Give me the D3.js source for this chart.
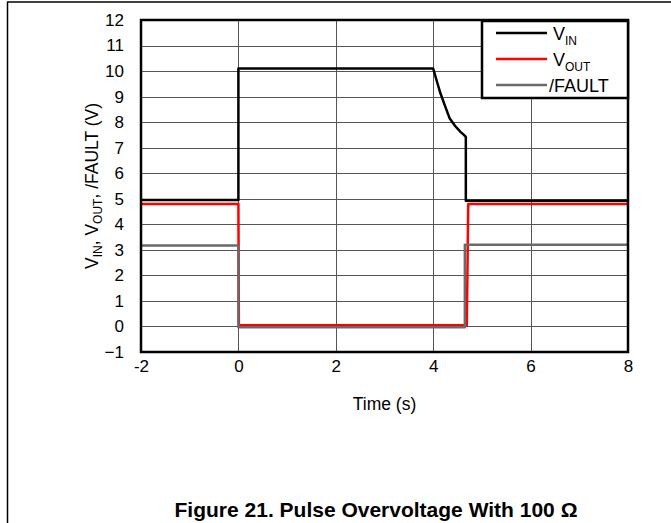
<!DOCTYPE html>
<html><head><meta charset="utf-8">
<script src="https://cdn.jsdelivr.net/npm/d3@7"></script>
<style>body{margin:0;background:#fff}svg{display:block;font-family:"Liberation Sans",Arial,sans-serif}</style>
</head><body>
<script>
const xTicks = [-2, 0, 2, 4, 6, 8];
const yTicks = [-1,0,1,2,3,4,5,6,7,8,9,10,11,12];
const vinT   = [-2, 0, 0, 4.0, 4.06, 4.15, 4.25, 4.34, 4.45, 4.56, 4.63, 4.67, 4.67, 8];
const vinV   = [4.95, 4.95, 10.1, 10.1, 9.7, 9.12, 8.6, 8.14, 7.85, 7.62, 7.5, 7.42, 4.92, 4.92];
const voutT  = [-2, 0, 0.01, 4.69, 4.72, 8];
const voutV  = [4.8, 4.8, 0.05, 0.05, 4.8, 4.8];
const faultT = [-2, 0, 0, 4.65, 4.65, 8];
const faultV = [3.17, 3.17, -0.03, -0.03, 3.2, 3.2];
const seriesNames = ["V|IN", "V|OUT", "/FAULT"];
const seriesColors = ["#000000", "#ff0000", "#6a6a6a"];
const caption = "Figure 21. Pulse Overvoltage With 100 Ω";

const W = 671, H = 523;
const m = {l: 141, r: 628, t: 20, b: 352};
const svg = d3.select("body").append("svg").attr("width", W).attr("height", H);

// page frame
svg.append("line").attr("x1", 7).attr("x2", W).attr("y1", 2).attr("y2", 2).attr("stroke", "#000").attr("stroke-width", 1.5);
svg.append("line").attr("x1", 7.5).attr("x2", 7.5).attr("y1", 2).attr("y2", H).attr("stroke", "#000").attr("stroke-width", 1.5);

const x = d3.scaleLinear().domain([-2, 8]).range([m.l, m.r]);
const y = d3.scaleLinear().domain([-1, 12]).range([m.b, m.t]);

// grid
svg.append("g").selectAll("line").data(xTicks.slice(1, -1)).join("line")
  .attr("x1", d => Math.round(x(d)) + 0.5).attr("x2", d => Math.round(x(d)) + 0.5)
  .attr("y1", m.t).attr("y2", m.b).attr("stroke", "#555").attr("stroke-width", 1);
svg.append("g").selectAll("line").data(yTicks.slice(1, -1)).join("line")
  .attr("x1", m.l).attr("x2", m.r)
  .attr("y1", d => Math.round(y(d)) + 0.5).attr("y2", d => Math.round(y(d)) + 0.5)
  .attr("stroke", "#555").attr("stroke-width", 1);

// axes (labels only)
const xAxis = svg.append("g").attr("transform", `translate(0,${m.b})`)
  .call(d3.axisBottom(x).tickValues(xTicks).tickFormat(d => String(d)).tickSize(0).tickPadding(8));
const yAxis = svg.append("g").attr("transform", `translate(${m.l},0)`)
  .call(d3.axisLeft(y).tickValues(yTicks).tickFormat(d => d < 0 ? "\u2212" + Math.abs(d) : String(d)).tickSize(0).tickPadding(17));
[xAxis, yAxis].forEach(a => {
  a.select(".domain").remove();
  a.selectAll("text").attr("font-size", 17).attr("fill", "#000").attr("font-family", "Liberation Sans, Arial, sans-serif");
});

// lines
const line = d3.line().x(d => x(d[0])).y(d => y(d[1]));
const data = [
  d3.zip(vinT, vinV),
  d3.zip(voutT, voutV),
  d3.zip(faultT, faultV)
];
svg.append("g").selectAll("path").data(data).join("path")
  .attr("d", line).attr("fill", "none")
  .attr("stroke", (d, i) => seriesColors[i]).attr("stroke-width", 2.5).attr("stroke-linejoin", "round");

// plot border
svg.append("rect").attr("x", m.l).attr("y", m.t).attr("width", m.r - m.l).attr("height", m.b - m.t)
  .attr("fill", "none").attr("stroke", "#000").attr("stroke-width", 2.5);

// legend
const lg = svg.append("g");
lg.append("rect").attr("x", 482).attr("y", 21).attr("width", 146).attr("height", 77)
  .attr("fill", "#fff").attr("stroke", "#000").attr("stroke-width", 2.5);
seriesNames.forEach((n, i) => {
  const yy = 33 + i * 26;
  lg.append("line").attr("x1", 496).attr("x2", 547).attr("y1", yy).attr("y2", yy)
    .attr("stroke", seriesColors[i]).attr("stroke-width", 2.5);
  const t = lg.append("text").attr("x", i === 2 ? 549 : 553).attr("y", yy + 7).attr("font-size", 18).attr("fill", "#000");
  const parts = n.split("|");
  t.append("tspan").text(parts[0]);
  if (parts[1]) t.append("tspan").attr("font-size", 12).attr("dy", 5).text(parts[1]);
});

// axis titles
svg.append("text").attr("x", (m.l + m.r) / 2).attr("y", 410).attr("text-anchor", "middle")
  .attr("font-size", 17.5).text("Time (s)");
const yt = svg.append("text").attr("transform", `translate(98,${(m.t + m.b) / 2}) rotate(-90)`)
  .attr("text-anchor", "middle").attr("font-size", 17.5);
yt.append("tspan").text("V");
yt.append("tspan").attr("font-size", 12).attr("dy", 4).text("IN");
yt.append("tspan").attr("dy", -4).text(", V");
yt.append("tspan").attr("font-size", 12).attr("dy", 4).text("OUT");
yt.append("tspan").attr("dy", -4).text(", /FAULT (V)");

// caption
svg.append("text").attr("x", 376).attr("y", 517).attr("text-anchor", "middle")
  .attr("font-size", 21).attr("font-weight", "bold").text(caption);
</script>
</body></html>
